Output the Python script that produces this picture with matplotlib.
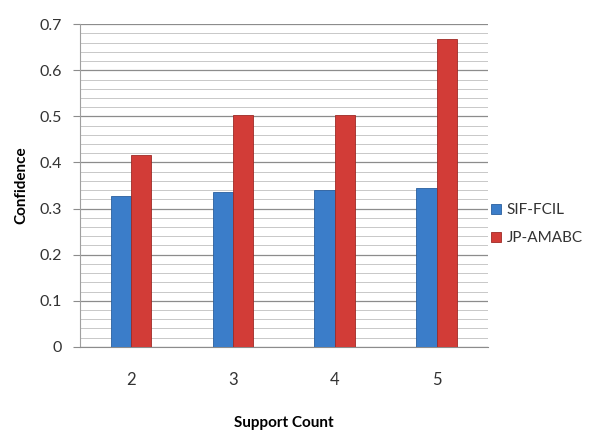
import numpy as np
import matplotlib.pyplot as plt

categories = ["2", "3", "4", "5"]
sif_fcil = [0.327, 0.336, 0.340, 0.345]
jp_amabc = [0.416, 0.503, 0.503, 0.668]
series_names = ["SIF-FCIL", "JP-AMABC"]

plt.rcParams['font.family'] = ['Lato', 'DejaVu Sans']

fig = plt.figure(figsize=(6.06, 4.32), dpi=100)
ax = fig.add_axes([0.132, 0.197, 0.673, 0.747])

x = np.arange(len(categories)) + 0.5
w = 0.2
b1 = ax.bar(x - w / 2, sif_fcil, w, color="#3b7dc9", edgecolor="#2a5f9e",
            linewidth=0.6, label=series_names[0], zorder=3)
b2 = ax.bar(x + w / 2, jp_amabc, w, color="#d23c37", edgecolor="#9e2a26",
            linewidth=0.6, label=series_names[1], zorder=3)

ax.set_xlim(0, len(categories))
ax.set_ylim(0, 0.7)
ax.set_yticks(np.arange(0, 0.71, 0.1))
ax.set_yticklabels(["0", "0.1", "0.2", "0.3", "0.4", "0.5", "0.6", "0.7"])
ax.set_yticks(np.arange(0, 0.7, 0.02), minor=True)
ax.set_xticks(x)
ax.set_xticklabels(categories)

ax.grid(axis="y", which="major", color="#8c8c8c", linewidth=0.9, zorder=0)
ax.grid(axis="y", which="minor", color="#c8c8c8", linewidth=0.7, zorder=0)

for s in ["top", "right"]:
    ax.spines[s].set_visible(False)
ax.spines["left"].set_color("#a0a0a0")
ax.spines["bottom"].set_color("#8c8c8c")
ax.tick_params(axis="y", which="major", length=5, color="#8c8c8c",
               labelsize=11.5, labelcolor="#333333", pad=8)
ax.tick_params(axis="y", which="minor", length=0)
ax.tick_params(axis="x", length=0, labelsize=12, labelcolor="#333333", pad=18)

ax.set_ylabel("Confidence", fontsize=11, fontweight="bold", labelpad=8)
ax.set_xlabel("Support Count", fontsize=11, fontweight="bold", labelpad=20)

ax.legend(loc="center left", bbox_to_anchor=(0.975, 0.38), frameon=False,
          fontsize=11, handlelength=0.6, handleheight=0.6,
          labelspacing=0.9, handletextpad=0.4, labelcolor="#333333")

fig.savefig("out.png", dpi=100)
